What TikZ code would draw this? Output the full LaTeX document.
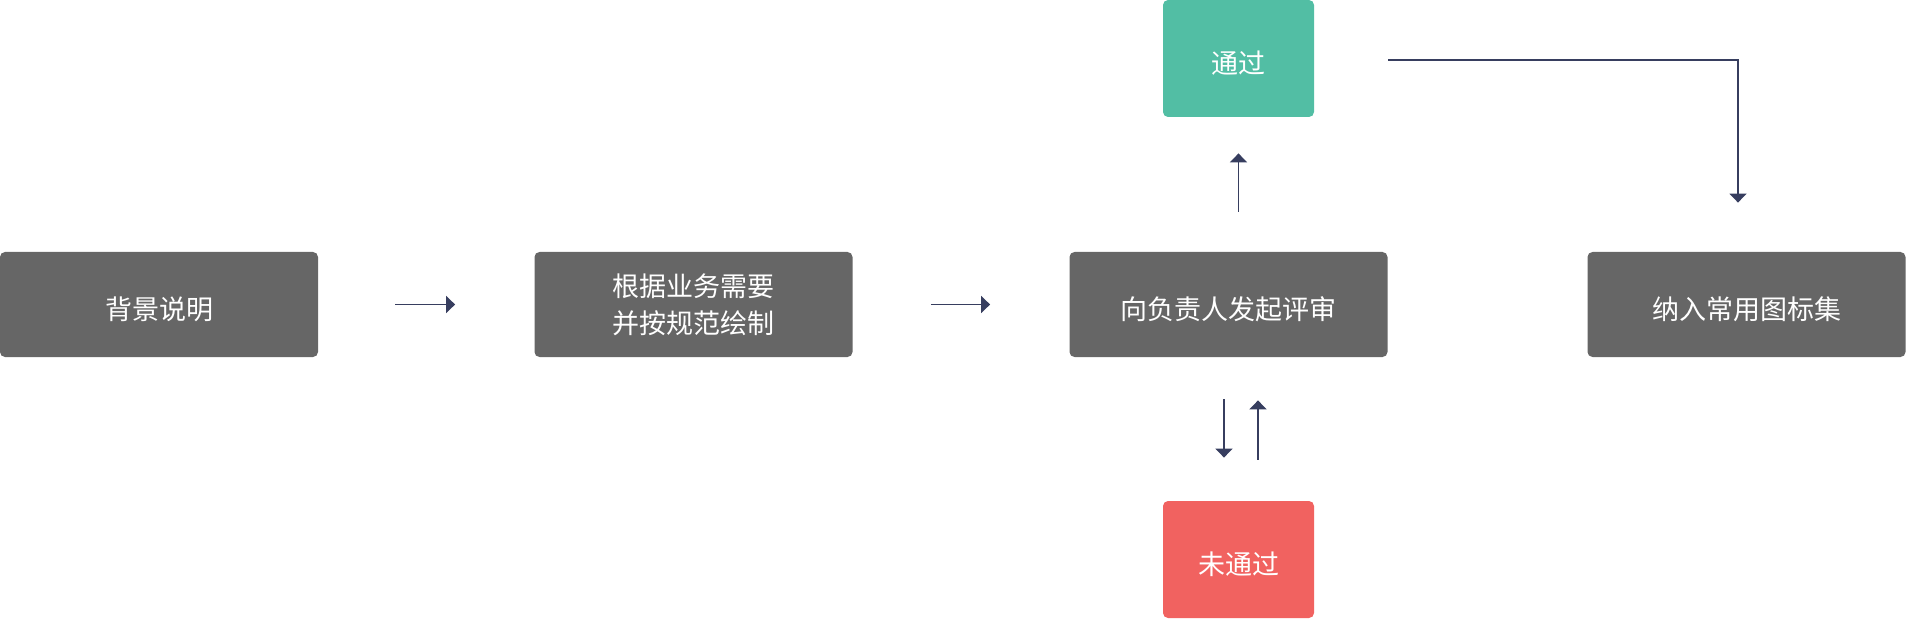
\documentclass[tikz,border=0pt]{standalone}
\usepackage{fontspec}
\setmainfont{Noto Sans CJK SC}
\usepackage{xcolor}
\usepackage{tikz}
\usetikzlibrary{calc}
\usetikzlibrary{arrows.meta}
\tikzset{>={Triangle[width=8.5pt,length=4.5pt]}}

\definecolor{boxgray}{HTML}{666666}
\definecolor{passgreen}{HTML}{52BEA4}
\definecolor{failred}{HTML}{F16260}
\definecolor{arrowblue}{HTML}{373E5F}

\tikzset{
	box/.style={fill=boxgray, rounded corners=2.5pt, minimum width=159pt, minimum height=52.5pt,
		text=white, font=\fontsize{13.5pt}{18.5pt}\selectfont, align=center, inner sep=0pt},
	oneline/.style={text height=14.6pt, text depth=0pt},
	result/.style={box, oneline, minimum width=75.5pt, minimum height=58.5pt},
	flow/.style={->, line width=0.75pt, draw=arrowblue}
}

\begin{document}
\begin{tikzpicture}[x=0.5pt, y=-0.5pt]
	\useasboundingbox (0,0) rectangle (1906,620);

	%% Main row
	\node[box, oneline] (bg) at (159,304.5) {背景说明};
	\node[box] (draw) at (693.5,304.5) {根据业务需要\\并按规范绘制};
	\node[box, oneline] (review) at (1228.5,304.5) {向负责人发起评审};
	\node[box, oneline] (lib) at (1746.5,304.5) {纳入常用图标集};

	%% Results
	\node[result, fill=passgreen] (pass) at (1238.5,58.5) {通过};
	\node[result, fill=failred] (fail) at (1238.5,559.5) {未通过};

	%% Arrows
	\draw[flow, shorten <=38.5pt, shorten >=39.5pt] (bg.east) -- (draw.west);
	\draw[flow, shorten <=39pt, shorten >=39.5pt] (draw.east) -- (review.west);
	%
	\draw[flow, shorten <=20pt, shorten >=18pt] (pass.south |- review.north) -- (pass.south);
	%
	\draw[flow, shorten <=21pt, shorten >=21.5pt]
	([xshift=-7.25pt]pass.south |- review.south) -- ([xshift=-7.25pt]fail.north);
	\draw[flow, shorten <=20.5pt, shorten >=21.5pt]
	([xshift=9.75pt]fail.north) -- ([xshift=9.75pt]pass.south |- review.south);
	%
	\draw[flow, shorten <=37pt, shorten >=24.5pt]
	([yshift=-0.75pt]pass.east) -| ([xshift=-4.25pt]lib.north);

\end{tikzpicture}
\end{document}
